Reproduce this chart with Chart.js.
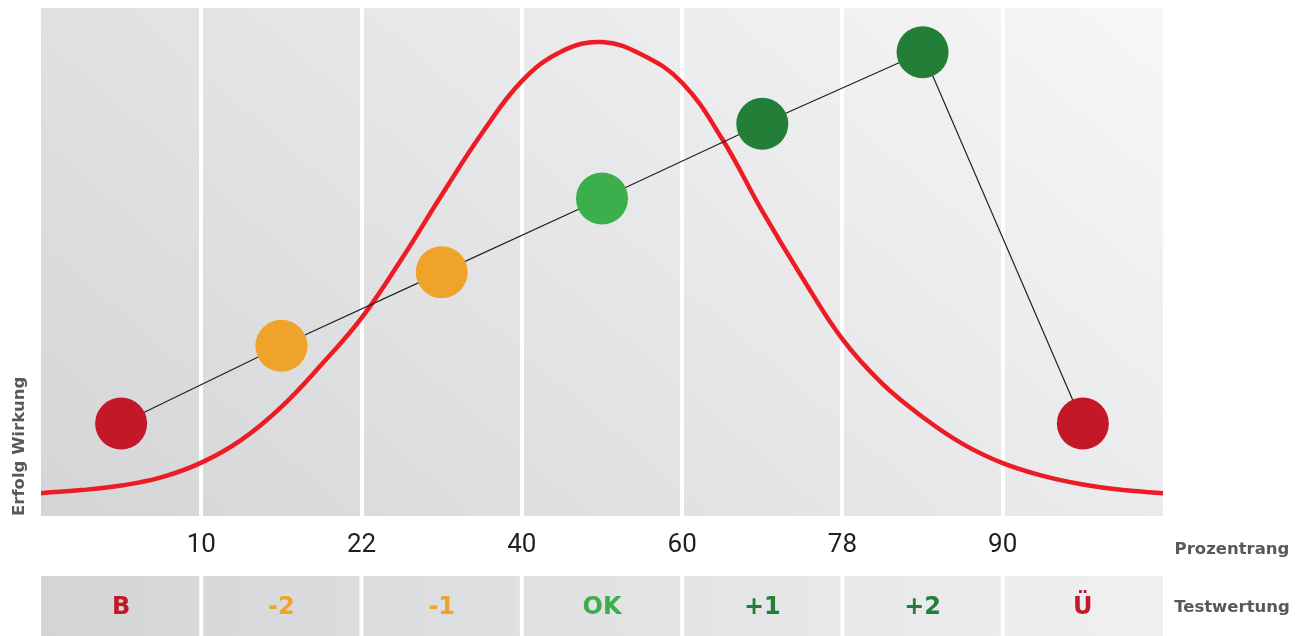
<!DOCTYPE html>
<html lang="de">
<head>
<meta charset="utf-8">
<title>Erfolg Wirkung / Prozentrang</title>
<script src="https://cdn.jsdelivr.net/npm/chart.js@4.4.1/dist/chart.umd.min.js"></script>
<style>
  html, body { margin: 0; padding: 0; background: #fff; }
  #wrap { width: 1307px; height: 636px; }
</style>
</head>
<body>
<div id="wrap"><canvas id="chart" width="1307" height="636"></canvas></div>
<script>
// Percentile boundaries shown under the band separators.
var tickLabels = ['10', '22', '40', '60', '78', '90'];

// Test rating per band (Testwertung) and its colour.
var categories = ['B', '-2', '-1', 'OK', '+1', '+2', 'Ü'];
var categoryColors = ['#c41727', '#f0a32a', '#f0a32a', '#3cae4c', '#237f38', '#237f38', '#c41727'];

// Effect (Erfolg Wirkung) of each band.
var effectValues = [18.2, 33.5, 48.0, 62.5, 77.2, 91.3, 18.2];

// Bell curve (x in band units).
var curveX = [0, 0.25, 0.5, 0.75, 1, 1.25, 1.5, 1.75, 2, 2.25, 2.5, 2.75, 3, 3.25, 3.5,
              3.75, 4, 4.25, 4.5, 4.75, 5, 5.25, 5.5, 5.75, 6, 6.25, 6.5, 6.75, 7];
var curveY = [4.5, 5.1, 6.0, 7.6, 10.5, 15.0, 21.5, 29.8, 39.0, 50.6, 63.2, 75.3, 85.6, 91.5, 93.3,
              90.8, 85.3, 74.2, 60.0, 46.9, 34.8, 26.0, 19.5, 14.2, 10.4, 7.9, 6.2, 5.1, 4.5];

(function () {
    'use strict';

    var curveData = curveX.map(function (x, i) { return { x: x, y: curveY[i] }; });
    var pointData = effectValues.map(function (v, i) { return { x: i + 0.5, y: v }; });

    var labelFont = '"DejaVu Sans", Verdana, sans-serif';

    // Plot background, white band gaps, rating row and side labels.
    var bandsPlugin = {
        id: 'bands',
        beforeDraw: function (chart) {
            var a = chart.chartArea, ctx = chart.ctx;
            var w = a.right - a.left, h = a.bottom - a.top;
            var g = ctx.createLinearGradient(a.left, a.bottom, a.left + 0.654 * w, a.bottom - 1.663 * h);
            g.addColorStop(0, 'rgb(212,213,215)');
            g.addColorStop(1, 'rgb(247,247,248)');
            ctx.save();
            ctx.fillStyle = g;
            ctx.fillRect(a.left, a.top, w, h);
            ctx.restore();
        },
        afterDraw: function (chart) {
            var a = chart.chartArea, ctx = chart.ctx, xs = chart.scales.x;
            var top = a.bottom + 60, bottom = chart.height;
            ctx.save();

            var g = ctx.createLinearGradient(a.left, 0, a.right, 0);
            g.addColorStop(0, 'rgb(211,212,214)');
            g.addColorStop(1, 'rgb(240,240,241)');

            categories.forEach(function (cat, i) {
                var x0 = xs.getPixelForValue(i), x1 = xs.getPixelForValue(i + 1);
                var l = i > 0 ? x0 + 2 : x0;
                var r = i < categories.length - 1 ? x1 - 2 : x1;
                ctx.fillStyle = g;
                ctx.fillRect(l, top, r - l, bottom - top);

                ctx.fillStyle = categoryColors[i];
                ctx.font = 'bold 24px ' + labelFont;
                ctx.textAlign = 'center';
                ctx.textBaseline = 'middle';
                ctx.fillText(cat, (x0 + x1) / 2, top + 32);
            });

            // Axis captions on the right and the rotated y caption.
            ctx.fillStyle = '#58595b';
            ctx.font = 'bold 16.5px ' + labelFont;
            ctx.textAlign = 'center';
            ctx.textBaseline = 'middle';
            ctx.fillText('Prozentrang', 1232, a.bottom + 34);
            ctx.fillText('Testwertung', 1232, top + 32);

            ctx.translate(24, a.bottom);
            ctx.rotate(-Math.PI / 2);
            ctx.textAlign = 'left';
            ctx.textBaseline = 'alphabetic';
            ctx.fillText('Erfolg Wirkung', 0, 0);
            ctx.restore();
        }
    };

    new Chart(document.getElementById('chart'), {
        type: 'scatter',
        data: {
            datasets: [{
                label: 'Verteilung',
                data: curveData,
                showLine: true,
                borderColor: '#ed1c24',
                borderWidth: 4.5,
                pointRadius: 0,
                pointHoverRadius: 0,
                tension: 0.4,
                order: 2
            }, {
                label: 'Erfolg Wirkung',
                data: pointData,
                showLine: true,
                borderColor: '#231f20',
                borderWidth: 1.2,
                pointRadius: 26,
                pointHoverRadius: 26,
                pointBorderWidth: 0,
                pointBackgroundColor: categoryColors,
                pointHoverBackgroundColor: categoryColors,
                order: 1
            }]
        },
        options: {
            responsive: false,
            animation: false,
            events: [],
            layout: { autoPadding: false, padding: { left: 41, right: 144, top: 8, bottom: 0 } },
            plugins: {
                legend: { display: false },
                tooltip: { enabled: false }
            },
            scales: {
                x: {
                    type: 'linear',
                    min: 0,
                    max: categories.length,
                    afterFit: function (s) { s.height = 120; },
                    border: { display: false },
                    grid: {
                        drawTicks: false,
                        lineWidth: 4,
                        color: function (c) {
                            var v = c.tick && c.tick.value;
                            return v > 0 && v < categories.length ? '#ffffff' : 'rgba(0,0,0,0)';
                        }
                    },
                    ticks: {
                        stepSize: 1,
                        autoSkip: false,
                        maxRotation: 0,
                        padding: 14,
                        color: '#231f20',
                        font: { family: 'Roboto', size: 26 },
                        callback: function (v) {
                            return v >= 1 && v <= tickLabels.length ? tickLabels[v - 1] : '';
                        }
                    }
                },
                y: {
                    display: false,
                    min: 0,
                    max: 100
                }
            }
        },
        plugins: [bandsPlugin]
    });
})();
</script>
</body>
</html>
